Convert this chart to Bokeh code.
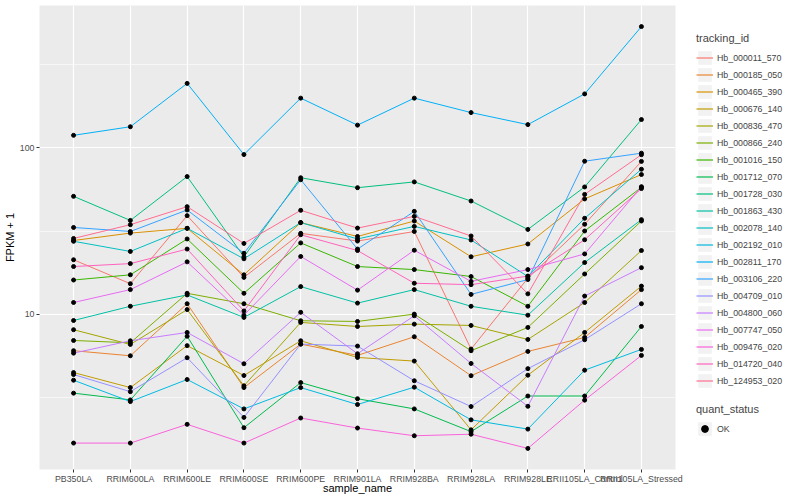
import numpy as np
from bokeh.plotting import figure
from bokeh.layouts import row
from bokeh.models import (FactorRange, Range1d, FixedTicker, BasicTickFormatter,
                          Legend, LegendItem, ColumnDataSource)
from bokeh.embed import file_html
from bokeh.resources import INLINE

# ---------------- data ----------------
samples = ["PB350LA", "RRIM600LA", "RRIM600LE", "RRIM600SE", "RRIM600PE",
           "RRIM901LA", "RRIM928BA", "RRIM928LA", "RRIM928LE",
           "RRII105LA_Control", "RRII105LA_Stressed"]

tracking_ids = ["Hb_000011_570", "Hb_000185_050", "Hb_000465_390", "Hb_000676_140",
                "Hb_000836_470", "Hb_000866_240", "Hb_001016_150", "Hb_001712_070",
                "Hb_001728_030", "Hb_001863_430", "Hb_002078_140", "Hb_002192_010",
                "Hb_002811_170", "Hb_003106_220", "Hb_004709_010", "Hb_004800_060",
                "Hb_007747_050", "Hb_009476_020", "Hb_014720_040", "Hb_124953_020"]

hb_000011_570 = [21.3, 15.3, 39.2, 16.7, 30.7, 27.6, 31.5, 6.2, 16.5, 34.8, 83]
hb_000185_050 = [6.06, 5.65, 11.6, 3.64, 6.64, 5.68, 7.35, 4.29, 6.0, 7.28, 14.1]
hb_000465_390 = [27.8, 30.8, 32.9, 17.3, 35.6, 29.4, 36.4, 22.2, 26.5, 49.4, 69.2]
hb_000676_140 = [4.48, 3.64, 6.5, 4.3, 6.95, 5.52, 5.25, 2.03, 4.32, 7.8, 14.8]
hb_000836_470 = [8.1, 6.61, 10.7, 3.73, 8.96, 8.47, 8.75, 8.59, 7.08, 11.8, 24.2]
hb_000866_240 = [6.98, 6.76, 13.4, 11.6, 9.17, 9.08, 10.05, 6.06, 8.36, 17.5, 36.4]
hb_001016_150 = [16.1, 17.3, 28.4, 13.4, 26.9, 19.4, 18.6, 16.9, 11.2, 31.7, 58]
hb_001712_070 = [3.37, 3.07, 7.4, 2.09, 3.90, 3.12, 2.71, 1.98, 3.24, 3.24, 8.47]
hb_001728_030 = [51.2, 36.7, 67.3, 22.2, 66.2, 57.7, 62.5, 48.0, 32.4, 58.3, 148]
hb_001863_430 = [9.2, 11.2, 13.1, 9.6, 14.7, 11.7, 14.1, 11.2, 9.9, 20.5, 37.1]
hb_002078_140 = [27.5, 23.9, 32.9, 21.6, 35.6, 28.4, 33.8, 28.0, 16.9, 37.8, 74.5]
hb_002192_010 = [4.03, 3.0, 4.07, 2.71, 3.64, 2.88, 3.66, 2.33, 2.05, 4.63, 6.17]
hb_002811_170 = [119, 134, 244, 91.2, 199, 137, 199, 163, 138, 211, 535]
hb_003106_220 = [33.3, 31.5, 42.4, 23.3, 64.4, 24.7, 41.6, 13.2, 16.2, 83.2, 93]
hb_004709_010 = [4.36, 3.44, 5.5, 2.41, 6.64, 6.46, 4.0, 2.80, 4.73, 7.05, 11.6]
hb_004800_060 = [5.86, 6.95, 7.8, 5.06, 10.3, 5.81, 9.82, 5.08, 2.81, 12.9, 19.1]
hb_007747_050 = [11.8, 14.1, 20.7, 9.9, 22.3, 14.0, 24.3, 15.8, 18.6, 23.1, 58.5]
hb_009476_020 = [1.69, 1.69, 2.19, 1.69, 2.39, 2.08, 1.87, 1.91, 1.57, 3.06, 5.68]
hb_014720_040 = [19.4, 20.2, 24.7, 10.5, 30.1, 24.2, 15.4, 15.1, 17.0, 28.1, 57]
hb_124953_020 = [28.6, 34.6, 44.4, 26.7, 42.2, 33.0, 38.8, 29.6, 13.3, 52.6, 91]

quant_status = "OK"

y_ticks = [10, 100]

# ---------------- styles ----------------
colors = ["#F8766D", "#EA8331", "#D89000", "#C09B00", "#A3A500", "#7CAE00", "#39B600",
          "#00BB4E", "#00BF7D", "#00C1A3", "#00BFC4", "#00BAE0", "#00B0F6", "#35A2FF",
          "#9590FF", "#C77CFF", "#E76BF3", "#FA62DB", "#FF62BC", "#FF6C91"]
FONT = "Liberation Sans"
y_minor = [10 ** 0.5, 10 ** 1.5, 10 ** 2.5]
FIG_H = 496

series = [hb_000011_570, hb_000185_050, hb_000465_390, hb_000676_140, hb_000836_470,
          hb_000866_240, hb_001016_150, hb_001712_070, hb_001728_030, hb_001863_430,
          hb_002078_140, hb_002192_010, hb_002811_170, hb_003106_220, hb_004709_010,
          hb_004800_060, hb_007747_050, hb_009476_020, hb_014720_040, hb_124953_020]

allv = np.concatenate([np.asarray(s, float) for s in series])
lo, hi = np.log10(allv.min()), np.log10(allv.max())
pad = 0.05 * (hi - lo)
y_lo, y_hi = 10 ** (lo - pad), 10 ** (hi + pad)

p = figure(x_range=FactorRange(factors=samples, range_padding=0.1, range_padding_units="absolute"),
           y_range=Range1d(y_lo, y_hi), y_axis_type="log",
           width=684, height=FIG_H,
           min_border_top=5, min_border_left=0, min_border_bottom=0, min_border_right=9,
           output_backend="svg", toolbar_location=None,
           background_fill_color="#EBEBEB", border_fill_color="white",
           outline_line_color=None)

# grid
p.xgrid.grid_line_color = "white"
p.xgrid.grid_line_width = 1.2
p.ygrid.grid_line_color = "white"
p.ygrid.grid_line_width = 1.2
p.ygrid.minor_grid_line_color = "white"
p.ygrid.minor_grid_line_width = 0.6

# axes
p.yaxis.ticker = FixedTicker(ticks=y_ticks, minor_ticks=y_minor)
p.yaxis.formatter = BasicTickFormatter()
for ax in (p.xaxis, p.yaxis):
    ax.axis_line_color = None
    ax.major_tick_line_color = "#333333"
    ax.major_tick_in = 0
    ax.major_tick_out = 3
    ax.minor_tick_line_color = None
    ax.major_label_text_font = FONT
    ax.major_label_text_font_size = "8.8px"
    ax.major_label_text_color = "#4D4D4D"
    ax.major_label_standoff = 1
    ax.axis_label_text_font = FONT
    ax.axis_label_text_font_size = "11px"
    ax.axis_label_text_font_style = "normal"
    ax.axis_label_text_color = "black"
    ax.axis_label_standoff = 1
p.xaxis.axis_label_standoff = -5
p.xaxis.axis_label = "sample_name"
p.yaxis.axis_label = "FPKM + 1"

for vals, col in zip(series, colors):
    src = ColumnDataSource(dict(x=samples, y=vals))
    p.line("x", "y", source=src, line_color=col, line_width=1)

pts_x = [s for _ in series for s in samples]
pts_y = [v for vals in series for v in vals]
p.scatter(x=pts_x, y=pts_y, marker="circle", size=4, fill_color="black", line_color="black")

# ---------------- legend panel (separate figure, renderers hidden) ----------------
lf = figure(x_range=FactorRange(factors=samples), y_range=Range1d(y_lo, y_hi),
            y_axis_type="log", width=100, height=FIG_H,
            min_border=0, x_axis_location=None, y_axis_location=None,
            output_backend="svg", toolbar_location=None,
            background_fill_color="white", border_fill_color="white",
            outline_line_color=None)
lf.grid.visible = False

key_bg = lf.rect(x=[samples[0]], y=[hb_000011_570[0]], width=0.1, height=0.1,
                 fill_color="#F2F2F2", line_color=None, visible=False)
leg_lines = []
for vals, col in zip(series, colors):
    src = ColumnDataSource(dict(x=samples, y=vals))
    leg_lines.append(lf.line("x", "y", source=src, line_color=col, line_width=1.2, visible=False))
leg_pts = lf.scatter(x=pts_x, y=pts_y, marker="circle", size=4, fill_color="black",
                     line_color="black", visible=False)


def style_legend(leg):
    leg.padding = 0
    leg.margin = 0
    leg.spacing = 0
    leg.glyph_width = 17
    leg.glyph_height = 17
    leg.label_height = 17
    leg.label_standoff = 4
    leg.label_text_font = FONT
    leg.label_text_font_size = "8.8px"
    leg.title_text_font = FONT
    leg.title_text_font_size = "11px"
    leg.title_text_font_style = "normal"
    leg.title_standoff = 5
    leg.border_line_color = None
    leg.background_fill_alpha = 0


leg1 = Legend(items=[LegendItem(label=t, renderers=[key_bg, r])
                     for t, r in zip(tracking_ids, leg_lines)],
              title="tracking_id", location=(12, 80))
style_legend(leg1)
leg2 = Legend(items=[LegendItem(label=quant_status, renderers=[key_bg, leg_pts])],
              title="quant_status", location=(12, 32))
style_legend(leg2)
lf.add_layout(leg1)
lf.add_layout(leg2)

layout = row(p, lf)
open("out.html", "w").write(file_html(layout, INLINE))
